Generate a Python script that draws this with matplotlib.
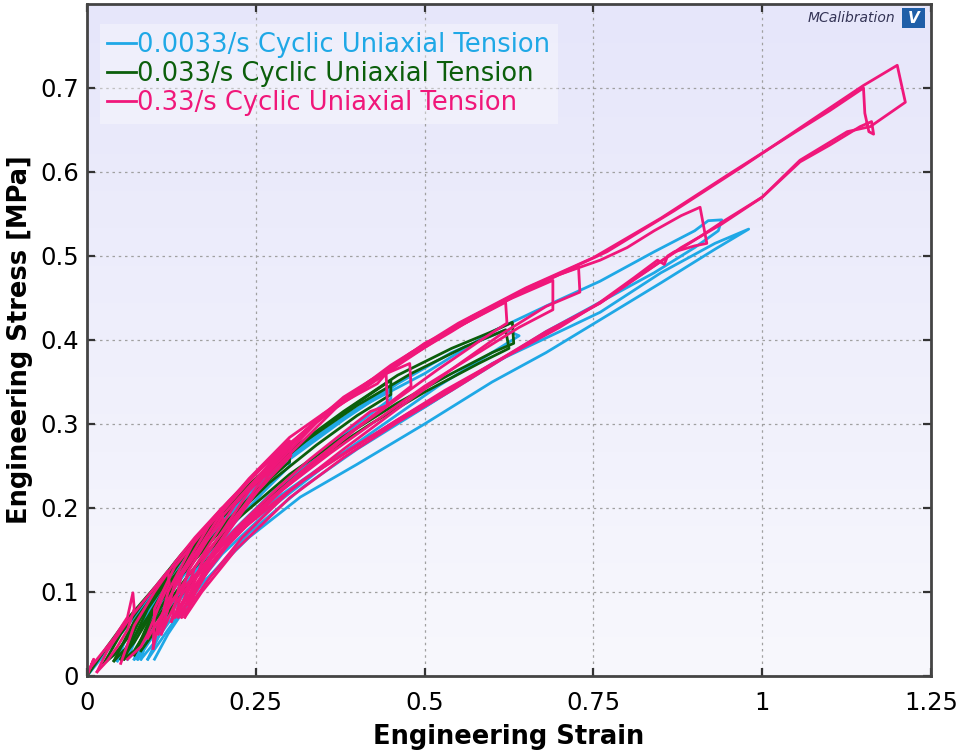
import matplotlib
matplotlib.use('Agg')
import matplotlib.pyplot as plt
import numpy as np
from matplotlib.patches import Rectangle
from matplotlib.colors import LinearSegmentedColormap

# Ciclos: (deformacion, esfuerzo [MPa])
cyan_cycles = [
    [(0.0, 0.0), (0.02, 0.02), (0.05, 0.05), (0.08, 0.08), (0.1, 0.1), (0.1, 0.092),
     (0.08, 0.06), (0.06, 0.035), (0.045, 0.018)],
    [(0.045, 0.018), (0.06, 0.05), (0.09, 0.09), (0.13, 0.135), (0.17, 0.17), (0.2, 0.195),
     (0.2, 0.18), (0.17, 0.15), (0.13, 0.105), (0.1, 0.065), (0.08, 0.035), (0.06, 0.02)],
    [(0.06, 0.02), (0.08, 0.06), (0.12, 0.115), (0.17, 0.165), (0.22, 0.205), (0.26, 0.235),
     (0.3, 0.262), (0.3, 0.25), (0.26, 0.218), (0.21, 0.175), (0.16, 0.125), (0.12, 0.08),
     (0.09, 0.04), (0.07, 0.02)],
    [(0.07, 0.02), (0.09, 0.06), (0.14, 0.13), (0.2, 0.19), (0.27, 0.24), (0.34, 0.285),
     (0.4, 0.318), (0.45, 0.345), (0.45, 0.33), (0.4, 0.3), (0.34, 0.262), (0.27, 0.215),
     (0.2, 0.16), (0.14, 0.1), (0.1, 0.05), (0.075, 0.02)],
    [(0.075, 0.02), (0.1, 0.07), (0.15, 0.135), (0.22, 0.2), (0.3, 0.258), (0.38, 0.305),
     (0.46, 0.348), (0.54, 0.385), (0.62, 0.412), (0.64, 0.405), (0.6, 0.385), (0.52, 0.345),
     (0.44, 0.3), (0.36, 0.255), (0.28, 0.205), (0.2, 0.145), (0.14, 0.085), (0.1, 0.04),
     (0.08, 0.02)],
    [(0.08, 0.02), (0.1, 0.075), (0.16, 0.15), (0.24, 0.22), (0.32, 0.275), (0.4, 0.318),
     (0.5, 0.36), (0.6, 0.41), (0.7, 0.448), (0.76, 0.47), (0.84, 0.505), (0.9, 0.53),
     (0.92, 0.542), (0.94, 0.543), (0.935, 0.53), (0.9, 0.51), (0.84, 0.48), (0.76, 0.445),
     (0.68, 0.41), (0.6, 0.37), (0.5, 0.32), (0.4, 0.27), (0.32, 0.225), (0.24, 0.17),
     (0.16, 0.1), (0.12, 0.055), (0.09, 0.02)],
    [(0.09, 0.02), (0.12, 0.07), (0.18, 0.14), (0.26, 0.2), (0.34, 0.245), (0.42, 0.285),
     (0.5, 0.32), (0.6, 0.372), (0.7, 0.41), (0.76, 0.433), (0.85, 0.48), (0.93, 0.515),
     (0.98, 0.532), (0.93, 0.508), (0.85, 0.468), (0.76, 0.424), (0.68, 0.385), (0.6, 0.35),
     (0.5, 0.3), (0.4, 0.252), (0.316, 0.213), (0.24, 0.165), (0.17, 0.11), (0.12, 0.05),
     (0.1, 0.02)],
]

green_cycles = [
    [(0.0, 0.0), (0.03, 0.035), (0.06, 0.068), (0.1, 0.105), (0.1, 0.095), (0.08, 0.07),
     (0.06, 0.045), (0.04, 0.025), (0.025, 0.015)],
    [(0.025, 0.015), (0.05, 0.05), (0.09, 0.095), (0.14, 0.145), (0.2, 0.198), (0.2, 0.185),
     (0.16, 0.15), (0.12, 0.11), (0.09, 0.07), (0.06, 0.035), (0.04, 0.018)],
    [(0.04, 0.018), (0.07, 0.065), (0.12, 0.12), (0.18, 0.18), (0.24, 0.228), (0.3, 0.27),
     (0.3, 0.255), (0.25, 0.22), (0.2, 0.178), (0.15, 0.13), (0.1, 0.08), (0.07, 0.04),
     (0.05, 0.02)],
    [(0.05, 0.02), (0.08, 0.07), (0.14, 0.14), (0.2, 0.195), (0.27, 0.245), (0.34, 0.29),
     (0.4, 0.325), (0.45, 0.352), (0.45, 0.335), (0.4, 0.31), (0.34, 0.275), (0.27, 0.23),
     (0.2, 0.175), (0.14, 0.12), (0.1, 0.07), (0.07, 0.03), (0.055, 0.02)],
    [(0.055, 0.02), (0.09, 0.08), (0.15, 0.15), (0.22, 0.21), (0.3, 0.268), (0.38, 0.315),
     (0.46, 0.358), (0.54, 0.39), (0.6, 0.41), (0.63, 0.421), (0.632, 0.396), (0.6, 0.385),
     (0.54, 0.36), (0.46, 0.325), (0.38, 0.285), (0.3, 0.24), (0.22, 0.185), (0.15, 0.12),
     (0.1, 0.065), (0.07, 0.025)],
    [(0.07, 0.025), (0.1, 0.08), (0.16, 0.155), (0.24, 0.222), (0.32, 0.278), (0.4, 0.322),
     (0.48, 0.36), (0.56, 0.392), (0.62, 0.412), (0.625, 0.39), (0.58, 0.372), (0.5, 0.338),
     (0.42, 0.3), (0.34, 0.258), (0.26, 0.205), (0.18, 0.14), (0.12, 0.075), (0.08, 0.03)],
]

pink_cycles = [
    [(0.0, 0.0), (0.01, 0.02), (0.005, 0.01), (0.02, 0.025), (0.04, 0.045), (0.06, 0.07),
     (0.068, 0.099), (0.07, 0.08), (0.06, 0.055), (0.045, 0.035), (0.03, 0.018), (0.015, 0.005)],
    [(0.015, 0.005), (0.03, 0.03), (0.06, 0.065), (0.09, 0.095), (0.12, 0.125), (0.122, 0.11),
     (0.11, 0.09), (0.1, 0.07), (0.09, 0.05), (0.08, 0.035), (0.06, 0.02)],
    [(0.05, 0.015), (0.07, 0.06), (0.1, 0.1), (0.13, 0.135), (0.16, 0.165), (0.2, 0.2),
     (0.201, 0.185), (0.17, 0.155), (0.14, 0.12), (0.12, 0.09), (0.105, 0.06), (0.098, 0.033)],
    [(0.098, 0.033), (0.1, 0.08), (0.13, 0.13), (0.17, 0.17), (0.21, 0.208), (0.25, 0.24),
     (0.28, 0.265), (0.3, 0.28), (0.302, 0.262), (0.27, 0.235), (0.23, 0.2), (0.19, 0.16),
     (0.15, 0.12), (0.12, 0.08), (0.105, 0.05)],
    [(0.105, 0.05), (0.12, 0.1), (0.16, 0.162), (0.2, 0.2), (0.25, 0.242), (0.3, 0.275),
     (0.35, 0.312), (0.4, 0.335), (0.43, 0.348), (0.443, 0.36), (0.445, 0.322), (0.42, 0.315),
     (0.38, 0.29), (0.33, 0.258), (0.28, 0.222), (0.22, 0.175), (0.17, 0.13), (0.13, 0.085),
     (0.11, 0.05)],
    [(0.11, 0.05), (0.13, 0.11), (0.18, 0.178), (0.24, 0.235), (0.3, 0.284), (0.36, 0.318),
     (0.42, 0.352), (0.478, 0.372), (0.48, 0.345), (0.44, 0.32), (0.39, 0.29), (0.33, 0.252),
     (0.27, 0.21), (0.21, 0.165), (0.16, 0.115), (0.125, 0.065)],
    [(0.125, 0.065), (0.14, 0.12), (0.2, 0.195), (0.26, 0.25), (0.32, 0.29), (0.38, 0.332),
     (0.44, 0.362), (0.5, 0.396), (0.56, 0.42), (0.62, 0.445), (0.622, 0.42), (0.58, 0.398),
     (0.52, 0.365), (0.46, 0.33), (0.4, 0.295), (0.34, 0.255), (0.28, 0.215), (0.22, 0.17),
     (0.17, 0.12), (0.13, 0.07)],
    [(0.13, 0.07), (0.15, 0.125), (0.2, 0.19), (0.27, 0.252), (0.34, 0.302), (0.42, 0.35),
     (0.5, 0.392), (0.57, 0.427), (0.63, 0.45), (0.69, 0.471), (0.69, 0.436), (0.64, 0.415),
     (0.57, 0.38), (0.5, 0.345), (0.43, 0.305), (0.36, 0.265), (0.29, 0.222), (0.22, 0.168),
     (0.17, 0.115), (0.135, 0.07)],
    [(0.135, 0.07), (0.16, 0.13), (0.22, 0.205), (0.3, 0.276), (0.38, 0.33), (0.46, 0.372),
     (0.54, 0.41), (0.6, 0.44), (0.66, 0.465), (0.7, 0.478), (0.728, 0.487), (0.73, 0.457),
     (0.68, 0.44), (0.61, 0.405), (0.54, 0.365), (0.46, 0.318), (0.38, 0.27), (0.3, 0.22),
     (0.23, 0.165), (0.18, 0.115), (0.14, 0.07)],
    [(0.14, 0.07), (0.17, 0.135), (0.24, 0.22), (0.32, 0.29), (0.4, 0.34), (0.48, 0.385),
     (0.56, 0.42), (0.64, 0.455), (0.7, 0.478), (0.76, 0.495), (0.8, 0.51), (0.84, 0.53),
     (0.88, 0.548), (0.908, 0.558), (0.918, 0.515), (0.9, 0.512), (0.87, 0.505), (0.86, 0.5),
     (0.855, 0.49), (0.845, 0.495), (0.81, 0.474), (0.76, 0.445), (0.7, 0.415), (0.62, 0.38),
     (0.54, 0.34), (0.46, 0.302), (0.38, 0.26), (0.3, 0.212), (0.22, 0.15), (0.17, 0.1),
     (0.145, 0.07)],
    [(0.145, 0.07), (0.18, 0.14), (0.26, 0.235), (0.35, 0.31), (0.45, 0.37), (0.55, 0.42),
     (0.65, 0.462), (0.75, 0.498), (0.85, 0.545), (0.95, 0.597), (1.05, 0.648), (1.1, 0.673),
     (1.15, 0.7), (1.152, 0.67), (1.158, 0.648), (1.165, 0.645), (1.162, 0.66), (1.145, 0.654),
     (1.1, 0.632), (1.056, 0.612), (1.0, 0.57), (0.94, 0.538), (0.88, 0.51), (0.81, 0.472),
     (0.76, 0.444), (0.68, 0.41), (0.61, 0.376), (0.53, 0.34), (0.46, 0.305), (0.39, 0.27),
     (0.32, 0.233), (0.25, 0.19), (0.19, 0.14), (0.15, 0.085)],
    [(0.15, 0.085), (0.19, 0.15), (0.27, 0.24), (0.37, 0.32), (0.47, 0.375), (0.57, 0.428),
     (0.67, 0.468), (0.77, 0.505), (0.87, 0.554), (0.97, 0.606), (1.07, 0.66), (1.15, 0.703),
     (1.2, 0.727), (1.212, 0.683), (1.16, 0.654), (1.126, 0.648), (1.056, 0.614), (1.0, 0.57),
     (0.938, 0.539), (0.908, 0.523), (0.86, 0.499), (0.809, 0.471), (0.76, 0.444), (0.61, 0.376),
     (0.46, 0.305), (0.32, 0.233), (0.2, 0.155), (0.12, 0.085), (0.09, 0.045)],
]

series_labels = ['0.0033/s Cyclic Uniaxial Tension',
                 '0.033/s Cyclic Uniaxial Tension',
                 '0.33/s Cyclic Uniaxial Tension']
series_colors = ['#1fa8e6', '#0b5e0b', '#f0177a']

x_ticks = [0, 0.25, 0.5, 0.75, 1, 1.25]
x_ticklabels = ['0', '0.25', '0.5', '0.75', '1', '1.25']
y_ticks = [0, 0.1, 0.2, 0.3, 0.4, 0.5, 0.6, 0.7]
y_ticklabels = ['0', '0.1', '0.2', '0.3', '0.4', '0.5', '0.6', '0.7']

fig = plt.figure(figsize=(9.59, 7.5), dpi=100)
ax = fig.add_axes([0.0907, 0.0987, 0.8801, 0.896])

# fondo degradado lavanda
grad = np.linspace(0, 1, 256).reshape(-1, 1)
cmap_bg = LinearSegmentedColormap.from_list('bg', ['#f8f8fd', '#e6e6fa'])
ax.imshow(grad, extent=[0, 1, 0, 1], transform=ax.transAxes, cmap=cmap_bg,
          aspect='auto', origin='lower', zorder=-10)

for cycles, lab, col in zip([cyan_cycles, green_cycles, pink_cycles], series_labels, series_colors):
    first = True
    for cyc in cycles:
        pts = np.array(cyc)
        ax.plot(pts[:, 0], pts[:, 1], color=col, lw=2.0, solid_joinstyle='round',
                label=lab if first else None)
        first = False

ax.set_xlim(0, 1.25)
ax.set_ylim(0, 0.8)
ax.set_xticks(x_ticks)
ax.set_xticklabels(x_ticklabels)
ax.set_yticks(y_ticks)
ax.set_yticklabels(y_ticklabels)
ax.tick_params(direction='in', length=6, width=1.6, color='#333333', labelsize=17.5,
               top=True, right=True)
ax.tick_params(axis='x', pad=11)
ax.tick_params(axis='y', pad=6)
ax.grid(True, linestyle=(0, (2, 3)), color='#a0a0a0', lw=0.9)
ax.set_axisbelow(True)
for s in ax.spines.values():
    s.set_color('#444444')
    s.set_linewidth(2)

ax.set_xlabel('Engineering Strain', fontsize=18.5, fontweight='bold', labelpad=6)
ax.set_ylabel('Engineering Stress [MPa]', fontsize=18.5, fontweight='bold', labelpad=5)

leg = ax.legend(loc='upper left', bbox_to_anchor=(0.015, 0.97), borderaxespad=0,
                fontsize=18.5, handlelength=1.1, handletextpad=0.05, labelspacing=0.12,
                borderpad=0.3, frameon=True, fancybox=False)
leg.get_frame().set_facecolor('white')
leg.get_frame().set_alpha(0.35)
leg.get_frame().set_edgecolor('none')
for txt, col in zip(leg.get_texts(), series_colors):
    txt.set_color(col)

# logo
ax.text(0.958, 0.979, 'MCalibration', transform=ax.transAxes, ha='right', va='center',
        fontsize=10, style='italic', color='#333355')
ax.add_patch(Rectangle((0.966, 0.964), 0.027, 0.03, transform=ax.transAxes,
                       facecolor='#1f5fa8', edgecolor='none', zorder=5))
ax.text(0.9795, 0.979, 'V', transform=ax.transAxes, ha='center', va='center',
        fontsize=11, style='italic', fontweight='bold', color='white', zorder=6)

fig.savefig('out.png', dpi=100)
